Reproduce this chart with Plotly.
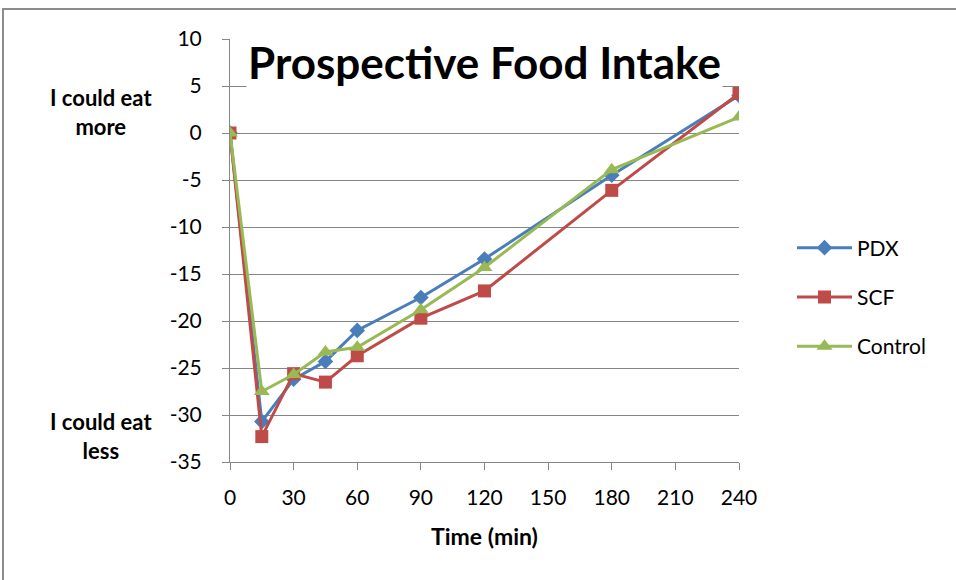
import plotly.graph_objects as go

time_min = [0, 15, 30, 45, 60, 90, 120, 180, 240]
pdx = [0, -30.7, -26.2, -24.3, -21.0, -17.5, -13.4, -4.5, 4.0]
scf = [0, -32.3, -25.6, -26.5, -23.7, -19.7, -16.8, -6.1, 4.2]
control = [0, -27.5, -25.7, -23.3, -22.8, -18.8, -14.3, -3.9, 1.7]

x_ticks = [0, 30, 60, 90, 120, 150, 180, 210, 240]
y_ticks = [10, 5, 0, -5, -10, -15, -20, -25, -30, -35]
y_ticktext = [str(v) for v in y_ticks]

FONT = "Lato, 'Open Sans', sans-serif"

fig = go.Figure()
series = [
    ("PDX", pdx, "#4A7EBB", "diamond", 12),
    ("SCF", scf, "#BE4B48", "square", 13),
    ("Control", control, "#98B954", "triangle-up", 14),
]
for name, vals, col, sym, sz in series:
    fig.add_trace(go.Scatter(
        x=time_min, y=vals, name=name, mode="lines+markers",
        legendgroup=name,
        line=dict(color=col, width=3),
        marker=dict(symbol=sym, size=sz, color=col),
    ))

fig.update_layout(
    width=956, height=580,
    margin=dict(l=230, r=217, t=39, b=118),
    paper_bgcolor="white", plot_bgcolor="white",
    font=dict(family=FONT, size=20, color="#000000"),
    showlegend=True,
    legend=dict(x=(792 - 230) / 509, y=(462 - 297) / 423, xanchor="left", yanchor="middle",
                font=dict(size=21, family=FONT), tracegroupgap=19, itemwidth=55,
                bgcolor="rgba(0,0,0,0)"),
    xaxis=dict(range=[0, 240], tickvals=x_ticks, showgrid=False,
               showline=True, linecolor="#868686", linewidth=1,
               ticks="outside", ticklen=7, tickcolor="#868686",
               ticklabelstandoff=10,
               tickfont=dict(size=21, family=FONT), zeroline=False,
               title=dict(text="<b>Time (min)</b>", font=dict(size=23, family=FONT), standoff=20)),
    yaxis=dict(range=[-35, 10], tickvals=y_ticks, ticktext=y_ticktext, showgrid=True,
               gridcolor="#868686", gridwidth=1,
               showline=True, linecolor="#868686", linewidth=1,
               ticks="outside", ticklen=7, tickcolor="#868686",
               ticklabelstandoff=16,
               tickfont=dict(size=21, family=FONT), zeroline=False),
    annotations=[
        dict(text="<b>Prospective Food Intake</b>", xref="paper", yref="paper",
             x=(484 - 230) / 509, y=(462 - 62) / 423, xanchor="center", yanchor="middle", showarrow=False,
             font=dict(size=44, family=FONT, color="#000000"), bgcolor="white"),
        dict(text="<b>I could eat<br>more</b>", xref="paper", yref="paper",
             x=(101 - 230) / 509, y=(462 - 112) / 423, xanchor="center", yanchor="middle",
             showarrow=False, font=dict(size=22, family=FONT)),
        dict(text="<b>I could eat<br>less</b>", xref="paper", yref="paper",
             x=(101 - 230) / 509, y=(462 - 436) / 423, xanchor="center", yanchor="middle",
             showarrow=False, font=dict(size=22, family=FONT)),
    ],
    shapes=[
        dict(type="rect", xref="paper", yref="paper",
             x0=(3 - 230) / 509, x1=3.0, y0=-3.0, y1=(462 - 9) / 423,
             line=dict(color="#8C8C8C", width=2), fillcolor="rgba(0,0,0,0)",
             layer="below"),
    ],
)

fig.write_html("out.html")
